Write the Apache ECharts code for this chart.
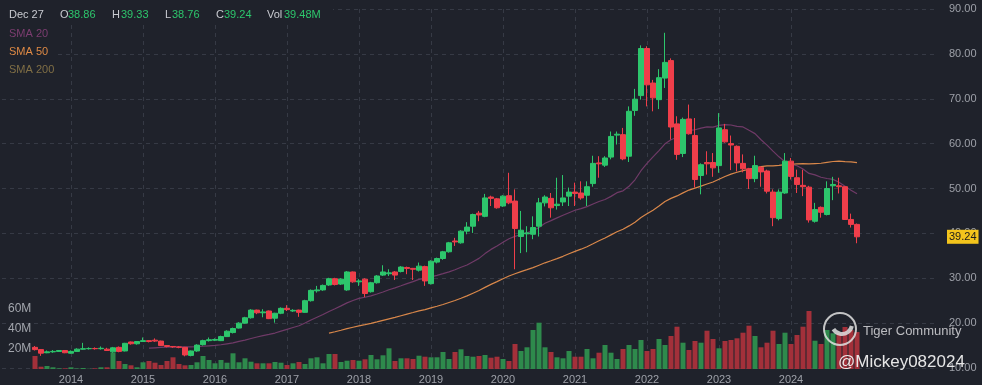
<!DOCTYPE html>
<html><head><meta charset="utf-8">
<script src="https://cdn.jsdelivr.net/npm/echarts@6/dist/echarts.min.js"></script>
<style>html,body{margin:0;padding:0;background:#1f222b;}#c{width:982px;height:385px;}</style>
</head><body><div id="c"></div>
<script>
// ---- data (monthly, Jul 2013 .. Dec 2024) ----
const firstYear = 2013, firstMonth = 7;
const opens = [14.6,14.1,13.4,13.6,13.7,13.9,13.3,13.7,14.2,14.3,14.35,14.3,14.2,13.6,14.6,13.8,15.8,15.4,15.9,16.1,
16.2,16.0,15.0,14.8,14.7,14.6,12.8,13.8,15.2,16.1,16.2,16.1,17.0,17.9,18.9,20.0,21.2,22.9,22.3,22.7,
21.1,22.2,23.3,22.7,22.9,22.4,25.0,27.2,27.4,28.5,29.9,28.7,27.4,31.4,29.2,29.8,27.0,29.0,30.7,31.0,
31.4,31.5,32.4,32.2,31.8,32.6,28.8,33.6,34.4,35.9,38.3,37.9,40.5,41.6,44.5,43.8,48.1,47.7,46.1,48.4,
47.2,39.3,39.9,39.8,41.6,46.8,47.8,46.2,47.0,48.3,49.2,49.0,48.5,51.1,55.7,55.2,57.0,61.9,62.0,57.2,
67.4,70.7,81.2,73.5,69.8,74.6,78.5,64.4,57.8,65.5,61.8,52.9,55.8,55.8,55.1,63.1,60.0,59.4,55.6,54.4,
52.2,54.7,53.9,49.2,43.3,49.0,56.1,52.4,50.7,50.3,42.7,45.8,44.2,50.6,50.6,50.4,43.1,42.0];
const highs = [14.9,14.2,13.9,14.0,14.0,14.0,13.9,14.4,15.6,14.6,14.6,14.8,14.5,14.7,14.8,15.6,15.9,16.0,16.8,16.2,
16.6,16.1,15.1,14.9,14.9,14.7,13.9,15.3,16.3,16.8,16.6,17.2,18.4,19.0,20.2,21.4,23.1,23.0,23.1,22.8,
22.3,23.5,24.0,23.1,23.0,25.2,27.5,28.3,28.6,30.1,30.1,30.0,31.6,31.5,29.8,30.0,29.2,30.7,32.9,32.0,
31.6,32.7,32.6,32.3,33.5,32.8,34.0,34.6,36.1,38.1,39.0,40.7,42.5,44.4,45.0,48.8,48.4,47.9,48.5,53.5,
49.8,45.0,41.6,43.8,47.9,48.5,49.0,52.4,53.0,50.2,51.3,51.6,51.6,57.3,57.2,57.2,62.7,62.7,63.5,68.3,
72.2,81.9,81.7,74.2,76.6,84.7,79.0,66.1,65.8,68.7,65.7,55.6,58.3,57.9,66.8,64.4,61.8,59.6,57.6,54.6,
57.3,55.0,54.2,49.8,49.8,57.9,56.8,54.2,54.2,50.6,46.8,46.0,51.6,52.6,52.4,50.5,44.4,42.2];
const lows = [13.9,12.7,13.3,13.4,13.6,13.3,13.2,13.6,14.1,14.1,14.1,14.1,13.9,13.4,13.5,13.7,15.2,15.2,15.8,15.7,
15.8,14.9,14.6,14.5,14.4,12.6,12.6,13.6,15.0,15.9,16.0,16.0,16.9,17.7,18.8,19.9,21.0,22.0,21.3,20.9,
20.1,22.0,22.7,22.5,21.4,22.3,24.8,26.8,27.2,28.3,28.4,28.5,27.2,29.0,28.3,25.8,26.8,28.8,30.5,30.5,
29.6,31.3,30.9,29.6,31.5,28.3,28.6,33.3,34.1,35.7,37.2,37.7,39.8,40.1,42.7,43.6,46.1,45.5,45.9,46.5,
32.0,35.6,35.8,38.7,39.3,46.0,43.5,45.3,46.1,46.1,46.1,47.5,46.1,50.4,52.4,54.8,56.5,59.8,56.3,55.9,
66.2,69.8,68.3,67.2,67.7,72.4,60.9,56.4,57.0,62.0,50.2,48.7,53.1,52.6,53.5,60.2,54.1,53.8,53.6,49.9,
51.4,50.4,48.9,41.6,42.9,48.8,52.0,49.0,48.3,42.4,42.4,43.5,44.0,47.4,48.9,43.0,41.3,37.8];
const closes = [14.1,13.3,13.6,13.7,13.9,13.4,13.7,14.2,14.3,14.35,14.3,14.4,13.9,14.5,13.7,15.5,15.4,15.9,16.1,15.9,
16.0,15.0,14.8,14.7,14.6,12.9,13.8,15.1,16.1,16.3,16.35,17.0,18.2,18.8,20.0,21.2,22.9,22.3,22.5,21.0,
22.2,23.3,23.0,22.85,22.4,25.0,27.3,27.4,28.4,29.9,28.6,29.8,31.4,29.2,29.4,26.6,29.0,30.5,31.4,31.2,
30.7,32.5,32.2,32.0,32.7,29.4,33.8,34.4,35.9,37.9,38.1,40.5,41.4,44.2,44.1,47.9,47.8,45.7,48.3,46.8,
41.1,40.7,40.1,41.3,46.8,48.1,45.7,46.5,47.9,49.2,48.9,47.9,50.4,55.6,55.5,56.8,61.6,62.1,56.6,67.2,
69.9,81.2,73.1,70.2,74.7,78.1,63.7,57.6,65.4,62.2,52.0,55.3,55.5,54.6,63.5,60.4,59.7,55.7,54.4,52.2,
55.1,53.7,49.4,43.5,49.2,56.1,52.7,50.9,50.4,43.0,45.3,44.7,50.0,50.9,50.4,43.1,42.0,39.24];
const volumes = [13,2.3,3,1.7,0.7,0.7,1.7,0.5,1,0.3,0.7,1.7,1.7,16.3,8,5,3.7,1.7,6.7,8,
6.3,4,8,11.7,5,3.7,4,6.7,13,9,5.7,9,6.3,15.7,6.7,10.7,7.3,5.7,5.7,5.7,
7,6.3,4,5.7,7,5,10.7,11.7,5.7,15,15,7,8.3,9,8.3,9.7,14,9.7,13.7,20.7,
8,10.7,10.7,10,13.3,12.3,11.7,11.7,17,10,17,19.7,13,12.3,13,14,11.3,12.3,10,8,
25,18,21.7,39,46.3,21.7,17,11.7,10.7,18,12.3,12.3,20,10.7,16.3,24,16.3,10,20,24,
20,29,18,20,30,24,33,42.3,26.3,19,28,26.3,38.3,30,20.7,28,29,30.7,36.3,43.3,
33,21.7,26.3,38.3,25,36.3,25,34,42.3,58,28.3,25,39,35.7,35.7,42,39,37];
const yearLabels = ['2014','2015','2016','2017','2018','2019','2020','2021','2022','2023','2024'];
const volumeTickLabels = ['20M','40M','60M'];
const header = {date:'Dec 27', o:'38.86', h:'39.33', l:'38.76', c:'39.24', vol:'39.48M'};
const smaPeriods = [20, 50];

// ---- build ----
const padBefore = 5, totalCats = 156;
const categories = [];
{ let y = firstYear, m = firstMonth - padBefore;
  while (m < 1) { m += 12; y--; }
  for (let k = 0; k < totalCats; k++) {
    categories.push(y + '-' + String(m).padStart(2,'0'));
    m++; if (m > 12) { m = 1; y++; }
  } }
const n = closes.length;
const candleData = categories.map((c,k)=>{ const i=k-padBefore; return (i>=0&&i<n)?[opens[i],closes[i],lows[i],highs[i]]:['-','-','-','-']; });
const UP='#2dc66c', DOWN='#ef3e4a', VUP='#2e8a4c', VDOWN='#a3303a';
const volData = categories.map((c,k)=>{ const i=k-padBefore; if(i<0||i>=n) return '-';
  return {value: volumes[i], itemStyle:{color: closes[i]>=opens[i]?VUP:VDOWN}}; });
function sma(p){ return categories.map((c,k)=>{ const i=k-padBefore; if(i<p-1||i>=n) return '-';
  let s=0; for(let j=i-p+1;j<=i;j++) s+=closes[j]; return +(s/p).toFixed(3); }); }
const isYearStart = (idx, val) => val.endsWith('-01') && yearLabels.indexOf(val.slice(0,4))>=0;
const FONT = 'Liberation Sans, Arial, sans-serif';
const AX = '#9da0a8', GRID = '#363a45', BG = '#1f222b';

const chart = echarts.init(document.getElementById('c'), null, {renderer:'canvas'});
chart.setOption({
  backgroundColor: BG, animation: false,
  textStyle: {fontFamily: FONT},
  grid: [{left:2, right:44, top:9, bottom:16}, {left:2, right:44, top:289, bottom:16}],
  xAxis: [
    {type:'category', gridIndex:0, data:categories, boundaryGap:true,
     axisLine:{show:false}, axisTick:{show:false},
     axisLabel:{interval:isYearStart, formatter:v=>v.slice(0,4), color:AX, fontSize:11, margin:6, fontFamily:FONT},
     splitLine:{show:true, interval:isYearStart, alignWithLabel:true, lineStyle:{color:GRID, type:[4,4], width:1}}},
    {type:'category', gridIndex:1, data:categories, boundaryGap:true, show:false}
  ],
  yAxis: [
    {type:'value', gridIndex:0, position:'right', min:10, max:90, interval:10, scale:false,
     axisLine:{show:false}, axisTick:{show:false},
     axisLabel:{formatter:v=>v.toFixed(2), color:AX, fontSize:11, margin:11, fontFamily:FONT},
     splitLine:{lineStyle:{color:GRID, type:[4,4], width:1}}},
    {type:'value', gridIndex:1, position:'left', min:0, max:80, interval:20,
     axisLine:{show:false}, axisTick:{show:false}, splitLine:{show:false},
     axisLabel:{inside:true, margin:6, color:'#a3a6ad', fontSize:12, fontFamily:FONT,
       formatter:v=>{ const t=volumeTickLabels.find(s=>parseFloat(s)===v); return t||''; }}}
  ],
  series: [
    {type:'bar', xAxisIndex:1, yAxisIndex:1, data:volData, barWidth:5, z:1},
    {type:'line', xAxisIndex:0, yAxisIndex:0, data:sma(smaPeriods[0]), symbol:'none', showSymbol:false,
     lineStyle:{color:'#6f3a67', width:1.2}, z:3},
    {type:'line', xAxisIndex:0, yAxisIndex:0, data:sma(smaPeriods[1]), symbol:'none', showSymbol:false,
     lineStyle:{color:'#d8874a', width:1.2}, z:3},
    {type:'candlestick', xAxisIndex:0, yAxisIndex:0, data:candleData, barWidth:5, z:4,
     itemStyle:{color:UP, color0:DOWN, borderColor:UP, borderColor0:DOWN, borderWidth:1},
     markLine:{silent:true, symbol:['none','none'], animation:false,
       lineStyle:{color:'rgba(0,0,0,0)', width:0, type:'solid'},
       label:{show:true, position:'end', distance:9, formatter:()=>closes[n-1].toFixed(2),
         backgroundColor:'#f3c41c', color:'#1c1c1c', padding:[2,2,1,2], fontSize:11, fontFamily:FONT},
       emphasis:{disabled:true},
       data:[{yAxis: closes[n-1]}]}}
  ],
  graphic: [
    {type:'rect', z:50, shape:{x:0,y:0,width:333,height:25}, style:{fill:BG}},
    {type:'rect', z:50, shape:{x:0,y:25,width:56,height:55}, style:{fill:BG}},
    {type:'text', z:51, x:9, y:15, style:{text:header.date, fill:'#c9cbd1', font:'11px '+FONT, textVerticalAlign:'middle'}},
    {type:'text', z:51, x:60, y:15, style:{text:'O', fill:'#c9cbd1', font:'11px '+FONT, textVerticalAlign:'middle'}},
    {type:'text', z:51, x:68, y:15, style:{text:header.o, fill:UP, font:'11px '+FONT, textVerticalAlign:'middle'}},
    {type:'text', z:51, x:112, y:15, style:{text:'H', fill:'#c9cbd1', font:'11px '+FONT, textVerticalAlign:'middle'}},
    {type:'text', z:51, x:121, y:15, style:{text:header.h, fill:UP, font:'11px '+FONT, textVerticalAlign:'middle'}},
    {type:'text', z:51, x:165, y:15, style:{text:'L', fill:'#c9cbd1', font:'11px '+FONT, textVerticalAlign:'middle'}},
    {type:'text', z:51, x:172, y:15, style:{text:header.l, fill:UP, font:'11px '+FONT, textVerticalAlign:'middle'}},
    {type:'text', z:51, x:216, y:15, style:{text:'C', fill:'#c9cbd1', font:'11px '+FONT, textVerticalAlign:'middle'}},
    {type:'text', z:51, x:224, y:15, style:{text:header.c, fill:UP, font:'11px '+FONT, textVerticalAlign:'middle'}},
    {type:'text', z:51, x:267, y:15, style:{text:'Vol', fill:'#c9cbd1', font:'11px '+FONT, textVerticalAlign:'middle'}},
    {type:'text', z:51, x:284, y:15, style:{text:header.vol, fill:UP, font:'11px '+FONT, textVerticalAlign:'middle'}},
    {type:'text', z:51, x:9, y:34, style:{text:'SMA 20', fill:'#7c3d70', font:'11px '+FONT, textVerticalAlign:'middle'}},
    {type:'text', z:51, x:9, y:52, style:{text:'SMA 50', fill:'#df8a45', font:'11px '+FONT, textVerticalAlign:'middle'}},
    {type:'text', z:51, x:9, y:70, style:{text:'SMA 200', fill:'#806f45', font:'11px '+FONT, textVerticalAlign:'middle'}},
    {type:'circle', z:60, shape:{cx:840, cy:329, r:16}, style:{fill:'rgba(0,0,0,0)', stroke:'rgba(225,225,225,0.85)', lineWidth:2}},
    {type:'arc', z:60, shape:{cx:842, cy:324, r:10, startAngle:0.2, endAngle:2.6}, style:{fill:'none', stroke:'rgba(225,225,225,0.85)', lineWidth:4}},
    {type:'text', z:60, x:863, y:331, style:{text:'Tiger Community', fill:'rgba(215,215,218,0.85)', font:'13px '+FONT, textVerticalAlign:'middle'}},
    {type:'text', z:60, x:838, y:362, style:{text:'@Mickey082024', fill:'rgba(240,240,240,0.95)', font:'17px '+FONT, textVerticalAlign:'middle'}}
  ]
});
</script></body></html>
